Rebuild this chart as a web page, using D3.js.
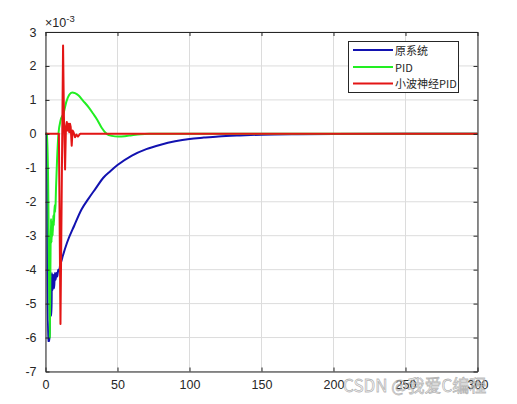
<!DOCTYPE html>
<html><head><meta charset="utf-8">
<script src="https://cdn.jsdelivr.net/npm/d3@7"></script>
<style>body{margin:0;background:#fff}svg{display:block}</style>
</head><body>
<svg id="c" width="517" height="404"></svg>
<script>
// ---- data (values in units of 1e-3) ----
const xTicks = [0, 50, 100, 150, 200, 250, 300];
const yTicks = [3, 2, 1, 0, -1, -2, -3, -4, -5, -6, -7];
const seriesNames = ["原系统", "PID", "小波神经PID"];

const origT = [0, 1.0, 1.6, 2.8, 3.1, 4.2, 4.4, 5.0, 5.4, 6.0, 6.5, 7.0, 7.6, 8.2, 8.8, 9.5, 10.2, 11, 12, 15, 20, 25, 30, 35, 40, 45, 50, 60, 70, 80, 90, 100, 110, 120, 135, 150, 175, 200, 250, 300];
const origV = [0, 0, -6.1, -6.1, -5.35, -5.35, -4.1, -4.6, -4.15, -4.55, -4.1, -4.3, -4.1, -4.2, -4.0, -4.05, -3.85, -3.75, -3.6, -3.2, -2.7, -2.23, -1.9, -1.6, -1.3, -1.1, -0.92, -0.64, -0.45, -0.32, -0.22, -0.15, -0.11, -0.075, -0.045, -0.025, -0.01, -0.003, 0, 0];

const pidT = [0, 1.4, 3.0, 3.4, 3.8, 4.2, 4.6, 5.0, 5.4, 5.8, 6.3, 6.8, 7.3, 8.0, 9.0, 10.5, 12.5, 14.5, 16.5, 18.5, 20.5, 23, 26, 30, 33, 36, 39, 42.5, 46, 50.5, 55, 60, 66, 72, 300];
const pidV = [0, 0, -6.0, -4.0, -2.5, -3.2, -2.6, -3.0, -2.4, -2.7, -2.1, -2.3, -1.6, -0.8, 0, 0.4, 0.6, 0.95, 1.15, 1.22, 1.2, 1.13, 0.98, 0.78, 0.6, 0.41, 0.18, 0.0, -0.06, -0.08, -0.07, -0.04, -0.01, 0, 0];

const wnnT = [0, 9.3, 10.4, 11.2, 12.2, 12.8, 13.6, 14.2, 14.8, 15.3, 15.8, 16.5, 17.0, 17.5, 18.2, 18.8, 19.5, 20.5, 21.5, 22.5, 24, 300];
const wnnV = [0, 0, -5.6, -2.0, 2.6, 0.5, -1.05, 0.2, 0.35, 0.1, 0.3, 0.05, 0.3, 0.2, -0.35, 0.1, 0.05, -0.1, -0.02, -0.08, 0, 0];

const colors = ["#1212b0", "#22ee22", "#e31515"];

// ---- layout ----
const svg = d3.select("#c");
const L = 45.5, R = 477.5, T = 32, B = 371.5;
const x = d3.scaleLinear().domain([0, 300]).range([L, R]);
const y = d3.scaleLinear().domain([-7, 3]).range([B, T]);
const font = "'Liberation Sans', Arial, sans-serif";
const axisCol = "#262626";

// grid
const g = svg.append("g");
g.selectAll(".gx").data(xTicks).join("line")
  .attr("x1", d => x(d)).attr("x2", d => x(d)).attr("y1", T).attr("y2", B)
  .attr("stroke", "#dcdcdc").attr("stroke-width", 1);
g.selectAll(".gy").data(yTicks).join("line")
  .attr("y1", d => y(d)).attr("y2", d => y(d)).attr("x1", L).attr("x2", R)
  .attr("stroke", "#dcdcdc").attr("stroke-width", 1);

// lines
const smooth = d3.line().x(d => x(d[0])).y(d => y(d[1])).curve(d3.curveMonotoneX);
const straight = d3.line().x(d => x(d[0])).y(d => y(d[1]));
const series = [
  d3.zip(origT, origV),
  d3.zip(pidT, pidV),
  d3.zip(wnnT, wnnV)
];
const gens = [smooth, smooth, straight];
series.forEach((s, i) => {
  svg.append("path").datum(s).attr("d", gens[i])
    .attr("fill", "none").attr("stroke", colors[i]).attr("stroke-width", 2)
    .attr("stroke-linejoin", "round");
});

// axes (box with inward ticks)
const ax = svg.append("g");
const xb = ax.append("g").attr("transform", `translate(0,${B})`)
  .call(d3.axisBottom(x).tickValues(xTicks).tickSizeInner(-4).tickSizeOuter(0).tickPadding(9));
const xt = ax.append("g").attr("transform", `translate(0,${T})`)
  .call(d3.axisTop(x).tickValues(xTicks).tickSizeInner(-4).tickSizeOuter(0).tickFormat(""));
const yl = ax.append("g").attr("transform", `translate(${L},0)`)
  .call(d3.axisLeft(y).tickValues(yTicks).tickSizeInner(-4).tickSizeOuter(0).tickPadding(9));
const yr = ax.append("g").attr("transform", `translate(${R},0)`)
  .call(d3.axisRight(y).tickValues(yTicks).tickSizeInner(-4).tickSizeOuter(0).tickFormat(""));
ax.selectAll("path.domain").attr("stroke", axisCol).attr("stroke-width", 1);
ax.selectAll(".tick line").attr("stroke", axisCol);
ax.selectAll("text").attr("fill", axisCol).attr("font-family", font).attr("font-size", 12.5);
yl.selectAll("text").text(d => d < 0 ? "-" + Math.abs(d) : d);

// exponent label
const ex = svg.append("text").attr("x", 45).attr("y", 27).attr("font-family", font)
  .attr("font-size", 12.5).attr("fill", axisCol);
ex.append("tspan").text("×10");
ex.append("tspan").attr("dy", -5).attr("font-size", 9.5).text("-3");

// legend
const lg = svg.append("g");
lg.append("rect").attr("x", 348.5).attr("y", 41.5).attr("width", 110).attr("height", 51)
  .attr("fill", "#fff").attr("stroke", axisCol).attr("stroke-width", 1);
const rowsY = [50, 67, 83.5];
seriesNames.forEach((n, i) => {
  lg.append("line").attr("x1", 353).attr("x2", 393).attr("y1", rowsY[i]).attr("y2", rowsY[i])
    .attr("stroke", colors[i]).attr("stroke-width", 2);
  lg.append("text").attr("x", 395).attr("y", rowsY[i] + 4.5).attr("font-family", "'Noto Sans CJK SC', " + font)
    .attr("font-size", 11).attr("fill", axisCol).text(n);
});

// watermark
svg.append("text").attr("x", 343).attr("y", 392).attr("font-family", "'Noto Sans CJK SC', " + font)
  .attr("font-size", 17).attr("fill", "rgba(255,255,255,0.6)").attr("stroke", "rgba(120,120,120,0.55)")
  .attr("stroke-width", 0.8).text("CSDN @我爱C编程");
</script>
</body></html>
